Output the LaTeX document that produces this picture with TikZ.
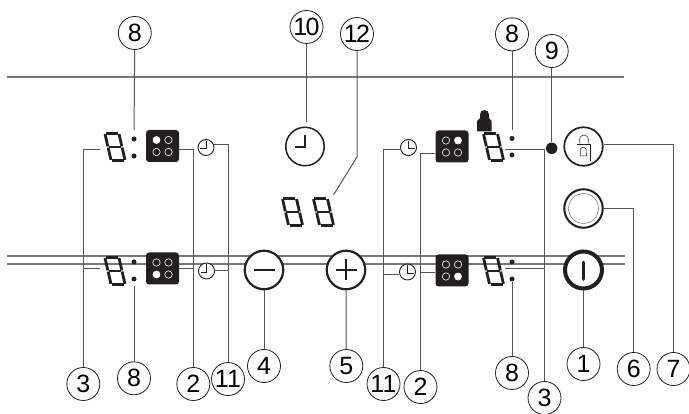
\documentclass[tikz,border=0pt]{standalone}
\usepackage{fontspec}
\setmainfont{Liberation Sans}
\usepackage{tikz}
\usetikzlibrary{calc}
\definecolor{leadgray}{HTML}{555555}
\definecolor{railgray}{HTML}{777777}
\definecolor{inkblack}{HTML}{231F20}
\tikzset{
  callout/.style={draw=inkblack,fill=white,circle,inner sep=0pt,minimum size=33pt,line width=0.8pt,font=\fontsize{25}{25}\selectfont},
  lead/.style={leadgray,line width=1pt},
  rail/.style={railgray,line width=1.3pt},
  hobbox/.style={fill=inkblack,rounded corners=3pt,minimum width=33pt,minimum height=32pt,inner sep=0pt},
  timer/.style={draw=inkblack,fill=white,circle,inner sep=0pt,minimum size=16pt,line width=0.9pt},
  softkey/.style={draw=inkblack,fill=white,circle,inner sep=0pt,minimum size=38.5pt,line width=2.2pt},
  digitbox/.style={inner sep=0pt,minimum width=22pt,minimum height=30pt},
  segdot/.style={fill=inkblack,circle,inner sep=0pt,minimum size=5pt}
}
% seven segment digit, centre at #1
\newcommand{\segdigit}[1]{%
\begin{scope}[shift={(#1)},line width=2.8pt,inkblack,line cap=butt,cm={1,0,-0.23,1,(0,0)}]
\foreach \ax/\ay/\bx/\by in {-6.1/-13.5/6.1/-13.5,-6.1/0/6.1/0,-6.1/13.5/6.1/13.5,-7/-12.9/-7/-0.6,7/-12.9/7/-0.6,-7/0.6/-7/12.9,7/0.6/7/12.9} {
  \draw (\ax,\ay) -- (\bx,\by);}
\end{scope}}
% four rings of a hob, the filled one given by #2
\newcommand{\hobrings}[2]{%
\foreach \rx/\ry/\rid in {-6/-6/1,6/-6/2,-6/6/3,6/6/4} {%
  \ifnum\rid=#2\relax
    \fill[white] ($(#1)+(\rx,\ry)$) circle (3.9);
  \else
    \draw[white,line width=0.6pt] ($(#1)+(\rx,\ry)$) circle (3.7);
  \fi}}
\begin{document}
\begin{tikzpicture}[x=1pt,y=-1pt]
\useasboundingbox (0,0) rectangle (689,414);
% panel edges
\coordinate (railAw) at (7,77); \coordinate (railAe) at (624,77);
\coordinate (railBw) at (7,256); \coordinate (railBe) at (625,256);
\coordinate (railCw) at (7,264); \coordinate (railCe) at (625,264);
\draw[rail] (railAw) -- (railAe);
\draw[rail] (railBw) -- (railBe);
\draw[rail] (railCw) -- (railCe);
% callouts
\node[callout] (labEightA) at (134.8,33) {8};
\node[callout] (labTen) at (306.5,27) {1\kern-1.5pt 0};
\node[callout] (labTwelve) at (357,34) {1\kern-1.5pt 2};
\node[callout] (labEightB) at (512,34.3) {8};
\node[callout] (labNine) at (551.7,51) {9};
\node[callout] (labThreeA) at (83.3,384) {3};
\node[callout] (labEightC) at (134,378.3) {8};
\node[callout] (labTwoA) at (193.3,384) {2};
\node[callout] (labElevenA) at (228,379) {1\kern-1.5pt 1};
\node[callout] (labFour) at (264,366) {4};
\node[callout] (labFive) at (346.3,366) {5};
\node[callout] (labElevenB) at (383.5,384) {1\kern-1.5pt 1};
\node[callout] (labTwoB) at (420.5,387) {2};
\node[callout] (labEightD) at (512,373) {8};
\node[callout] (labThreeB) at (544.5,398) {3};
\node[callout] (labOne) at (583.5,364) {1};
\node[callout] (labSix) at (633.7,369) {6};
\node[callout] (labSeven) at (673.5,369) {7};
% hob displays
\node[digitbox] (digA) at (115,147) {}; \segdigit{digA}
\node[digitbox] (digB) at (115,271) {}; \segdigit{digB}
\node[digitbox] (digC) at (493.5,147) {}; \segdigit{digC}
\node[digitbox] (digD) at (493.5,271) {}; \segdigit{digD}
\node[digitbox] (digE) at (292.5,212) {}; \segdigit{digE}
\node[digitbox] (digF) at (323.5,212) {}; \segdigit{digF}
\node[segdot] (dotAa) at (134,139) {}; \node[segdot] (dotAb) at (134,156) {};
\node[segdot] (dotBa) at (134,262) {}; \node[segdot] (dotBb) at (134,279) {};
\node[segdot] (dotCa) at (512,138.5) {}; \node[segdot] (dotCb) at (512,155) {};
\node[segdot] (dotDa) at (512,262) {}; \node[segdot] (dotDb) at (512,279) {};
\node[hobbox] (hobA) at (162.5,146) {}; \hobrings{hobA}{1}
\node[hobbox] (hobB) at (162.5,268.5) {}; \hobrings{hobB}{3}
\node[hobbox] (hobC) at (452,146.5) {}; \hobrings{hobC}{2}
\node[hobbox] (hobD) at (452,270.5) {}; \hobrings{hobD}{4}
\foreach \nm/\cx/\cy/\hx/\hy in {timA/206/147.5/-1/1,timB/206.5/271/-1/1,timC/408.5/147.5/1/1,timD/407.5/272/1/1} {
  \node[timer] (\nm) at (\cx,\cy) {};
  \draw[inkblack,line width=0.9pt] (\nm.north) ++(0,1.5) |- ($(\nm.center)+(\hx*6,\hy*1)$);
}
% lock symbol over the display
\fill[inkblack] (477,131.5) -- (477,121) -- (480,118) -- (480,114.5) arc[start angle=180,end angle=360,radius=4.5] -- (489,118) -- (491.5,121) -- (491.5,131.5) -- cycle;
% keys
\node[softkey,line width=1.5pt] (keyClock) at (305,146.5) {};
\draw[inkblack,line width=1.6pt] (305,135.5) |- (294.5,147);
\node[softkey] (keyMinus) at (264,270) {};
\draw[inkblack,line width=2.2pt] (253.5,270) -- (274.5,270);
\node[softkey] (keyPlus) at (346,270) {};
\draw[inkblack,line width=2.2pt] (335.5,270) -- (356.5,270) (346,259.5) -- (346,280.5);
\node[softkey,line width=4pt,minimum size=37pt] (keyPower) at (583.5,270) {};
\draw[inkblack,line width=3.8pt,line cap=round] (583.5,262.5) -- (583.5,279);
\node[softkey,line width=1.7pt] (keyLock) at (583.5,146.5) {};
\draw[inkblack,line width=0.5pt] (579.5,143.5) -- (579.5,139.5) arc[start angle=180,end angle=360,radius=4.5] -- (588.5,143.5);
\draw[inkblack,line width=0.5pt] (576.7,144.2) -- (590.7,144.2) -- (590.7,161.5);
\draw[inkblack,line width=0.5pt] (580.5,156) -- (587,156) -- (586,152) arc[start angle=30,end angle=-210,radius=3.2] -- cycle;
\node[softkey,line width=2pt] (keyRing) at (583.5,208.5) {};
\node[draw=railgray,circle,inner sep=0pt,minimum size=30pt,line width=0.5pt] (keyRingIn) at (keyRing) {};
\node[fill=inkblack,circle,inner sep=0pt,minimum size=11.5pt] (lampNine) at (551.7,148.3) {};
% leader ends
\coordinate (tipThreeA) at (100,150); \coordinate (tipThreeB) at (100,269);
\coordinate (tipThreeC) at (505,150); \coordinate (tipThreeD) at (505,268.5);
\coordinate (tipTwelve) at (333.5,195); \coordinate (bendTwelve) at (357,157);
\coordinate (tipTenK) at (306.5,122);
% leaders
\draw[lead,shorten >=6pt] (labEightA) -- (dotAa);
\draw[lead,shorten >=4.5pt] (labEightC) -- (dotBb);
\draw[lead,shorten >=6pt] (labEightB) -- (dotCa);
\draw[lead] (labEightD) -- (dotDb);
\draw[lead] (labTen) -- (tipTenK);
\draw[lead] (labTwelve) -- (bendTwelve) -- (tipTwelve);
\draw[lead] (labNine) -- (lampNine);
\draw[lead] (tipThreeA) -| (labThreeA);
\draw[lead] (tipThreeB) -- (tipThreeB -| labThreeA);
\draw[lead] (tipThreeC) -| (labThreeB);
\draw[lead] (tipThreeD) -- (tipThreeD -| labThreeB);
\draw[lead] (hobA.east |- 0,150) -| (labTwoA);
\draw[lead] (hobB.east |- 0,269) -- (labTwoA |- 0,269);
\draw[lead] (timA.east |- 0,145) -| (labElevenA);
\draw[lead] (timB.east |- 0,270.5) -- (labElevenA |- 0,270.5);
\draw[lead] (keyMinus) -- (labFour);
\draw[lead] (keyPlus) -- (labFive);
\draw[lead] (timC.west |- 0,150) -| (labElevenB);
\draw[lead] (timD.west |- 0,275) -- (labElevenB |- 0,275);
\draw[lead] (hobC.west |- 0,154) -| (labTwoB);
\draw[lead] (hobD.west |- 0,272.5) -- (labTwoB |- 0,272.5);
\draw[lead] (keyPower) -- (labOne);
\draw[lead] (keyRing.east |- 0,209) -| (labSix);
\draw[lead] (keyLock.east |- 0,144.5) -| (labSeven);
\end{tikzpicture}
\end{document}
